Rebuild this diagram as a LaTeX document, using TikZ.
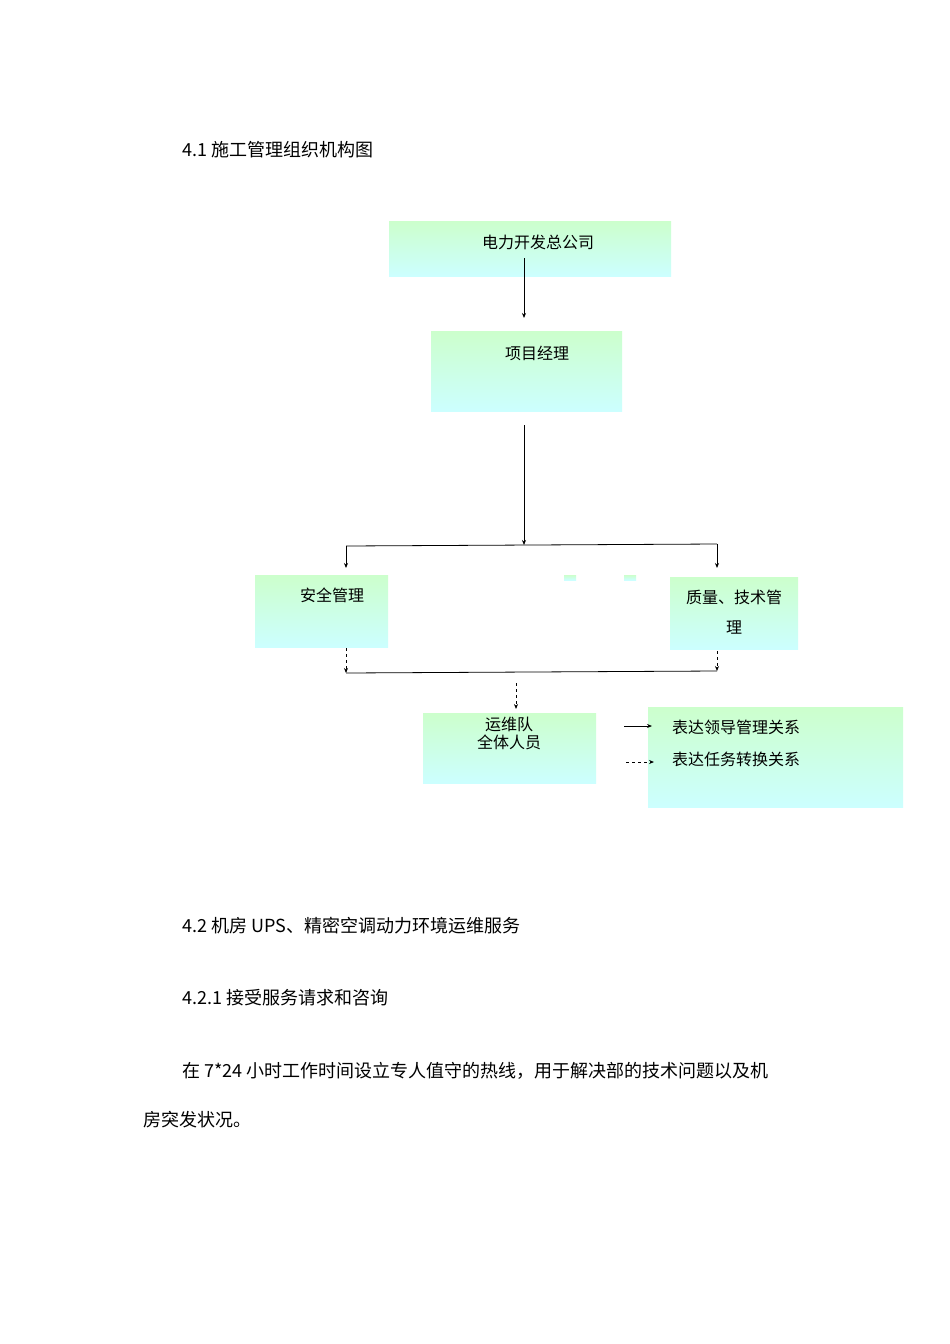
\documentclass[tikz,border=0pt]{standalone}
\usepackage{fontspec}
\setmainfont{Noto Sans CJK SC}
\usetikzlibrary{arrows.meta}
\begin{document}
\begin{tikzpicture}[x=1pt,y=-1pt,
  box/.style={top color={rgb,255:red,204;green,255;blue,204},bottom color={rgb,255:red,204;green,255;blue,255},draw=none},
  lbl/.style={font=\fontsize{16}{18}\selectfont,inner sep=0pt},
  body/.style={font=\fontsize{18}{22}\selectfont,anchor=west,inner sep=0pt},
  arr/.style={-{Stealth[length=5pt,width=4pt]},line width=0.8pt},
  darr/.style={arr,dashed,dash pattern=on 3pt off 3pt}]
\useasboundingbox (0,0) rectangle (950,1344);
\fill[white] (0,0) rectangle (950,1344);
\node[body] (t1) at (182,150) {4.1 施工管理组织机构图};
\shade[box] (389,221) rectangle (671,276);
\shade[box] (431,331) rectangle (622,411);
\shade[box] (255,575) rectangle (388,647);
\shade[box] (670,577) rectangle (798,649);
\shade[box] (423,713) rectangle (596,783);
\shade[box] (648,707) rectangle (903,807);
\shade[box] (564,575) rectangle (576,580);
\shade[box] (624,575) rectangle (636,580);
\node[lbl] (a) at (538,242) {电力开发总公司};
\node[lbl] (b) at (537,353) {项目经理};
\node[lbl] (c) at (332,595) {安全管理};
\node[lbl] (d1) at (734,597) {质量、技术管};
\node[lbl] (d2) at (734,628) {理};
\node[lbl,align=center,font=\fontsize{16}{18}\selectfont] (e) at (509,733) {运维队\\全体人员};
\node[lbl,anchor=west] (l1) at (672,727) {表达领导管理关系};
\node[lbl,anchor=west] (l2) at (672,759) {表达任务转换关系};
\coordinate (a0) at (524,258); \coordinate (b0) at (524,318);
\coordinate (b1) at (524,425); \coordinate (j1) at (524,545);
\coordinate (hl) at (346,546); \coordinate (hr) at (717,544);
\coordinate (cl) at (346,568); \coordinate (cr) at (717,568);
\coordinate (c0) at (346,648); \coordinate (c1) at (346,673);
\coordinate (d0) at (717,651); \coordinate (d3) at (717,671);
\coordinate (m0) at (516,683); \coordinate (m1) at (516,709);
\coordinate (s0) at (624,726); \coordinate (s1) at (652,726);
\coordinate (q0) at (626,762); \coordinate (q1) at (654,762);
\draw[arr] (a0) -- (b0);
\draw[arr] (b1) -- (j1);
\draw[line width=0.8pt] (hl) -- (hr);
\draw[arr] (hl) -- (cl);
\draw[arr] (hr) -- (cr);
\draw[darr] (c0) -- (c1);
\draw[darr] (d0) -- (d3);
\draw[line width=0.8pt] (c1) -- (d3);
\draw[darr] (m0) -- (m1);
\draw[arr] (s0) -- (s1);
\draw[darr] (q0) -- (q1);
\node[body] (t2) at (182,926) {4.2 机房 UPS、精密空调动力环境运维服务};
\node[body] (t3) at (182,998) {4.2.1 接受服务请求和咨询};
\node[body] (t4) at (182,1071) {在 7*24 小时工作时间设立专人值守的热线，用于解决部的技术问题以及机};
\node[body] (t5) at (143,1120) {房突发状况。};
\end{tikzpicture}
\end{document}
